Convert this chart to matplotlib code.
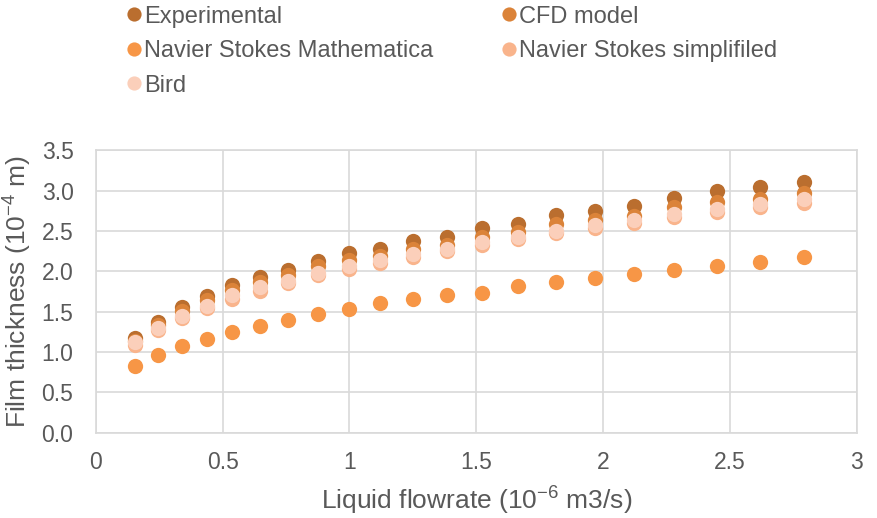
import matplotlib
matplotlib.use('Agg')
from matplotlib import pyplot as plt
from matplotlib.ticker import FuncFormatter

plt.rcParams['font.family'] = ['Liberation Sans', 'DejaVu Sans']
plt.rcParams['mathtext.fontset'] = 'custom'
plt.rcParams['mathtext.rm'] = 'Liberation Sans'

# liquid flowrate (10^-6 m3/s)
flowrate = [0.154, 0.244, 0.339, 0.437, 0.539, 0.647, 0.757, 0.876, 0.997,
            1.121, 1.252, 1.385, 1.522, 1.664, 1.813, 1.967, 2.121, 2.281,
            2.447, 2.617, 2.790]

# film thickness (10^-4 m)
experimental = [1.17, 1.37, 1.56, 1.69, 1.83, 1.93, 2.01, 2.13, 2.22, 2.28,
                2.37, 2.43, 2.53, 2.59, 2.70, 2.75, 2.81, 2.91, 2.99, 3.04,
                3.11]
cfd_model = [1.14, 1.33, 1.51, 1.64, 1.77, 1.87, 1.95, 2.06, 2.14, 2.19,
             2.28, 2.33, 2.42, 2.48, 2.58, 2.63, 2.69, 2.79, 2.86, 2.90,
             2.97]
ns_mathematica = [0.82, 0.96, 1.07, 1.16, 1.25, 1.32, 1.40, 1.47, 1.53, 1.60,
                  1.65, 1.71, 1.73, 1.82, 1.87, 1.92, 1.97, 2.02, 2.07, 2.12,
                  2.17]
ns_simplified = [1.09, 1.27, 1.42, 1.54, 1.66, 1.76, 1.85, 1.95, 2.03, 2.10,
                 2.18, 2.25, 2.33, 2.40, 2.47, 2.53, 2.60, 2.67, 2.73, 2.79,
                 2.85]
bird = [1.12, 1.30, 1.45, 1.57, 1.70, 1.80, 1.88, 1.98, 2.06, 2.14, 2.21,
        2.28, 2.36, 2.43, 2.50, 2.57, 2.64, 2.71, 2.77, 2.83, 2.89]

series = [
    ('Experimental', experimental, '#BA6E2F'),
    ('CFD model', cfd_model, '#DB8339'),
    ('Navier Stokes Mathematica', ns_mathematica, '#F79646'),
    ('Navier Stokes simplifiled', ns_simplified, '#F9B48C'),
    ('Bird', bird, '#FBCFBA'),
]

text_col = '#595959'
grid_col = '#D9D9D9'

fig = plt.figure(figsize=(8.78, 5.18), dpi=100)
ax = fig.add_axes([0.109, 0.165, 0.867, 0.545])

handles = {}
for name, vals, col in series:
    h, = ax.plot(flowrate, vals, 'o', color=col, ms=11, mec='none',
                 label=name, zorder=3)
    handles[name] = h

ax.set_xlim(0, 3)
ax.set_ylim(0, 3.5)
ax.set_xticks([0, 0.5, 1, 1.5, 2, 2.5, 3])
ax.set_yticks([0, 0.5, 1, 1.5, 2, 2.5, 3, 3.5])
ax.xaxis.set_major_formatter(FuncFormatter(lambda v, p: f'{v:g}'))
ax.yaxis.set_major_formatter(FuncFormatter(lambda v, p: f'{v:.1f}'))
ax.grid(True, color=grid_col, lw=1.2, zorder=0)
for s in ax.spines.values():
    s.set_color(grid_col)
    s.set_linewidth(1.2)
ax.tick_params(length=0, labelsize=16.5, labelcolor=text_col)
ax.tick_params(axis='y', pad=16)
ax.tick_params(axis='x', pad=13)

ax.set_xlabel(r'Liquid flowrate (10$^{\mathregular{-6}}$ m3/s)',
              fontsize=19, color=text_col, labelpad=7)
ax.set_ylabel(r'Film thickness (10$^{\mathregular{-4}}$ m)',
              fontsize=19, color=text_col, labelpad=6)

# legend laid out row-wise over two columns
order = ['Experimental', 'Navier Stokes Mathematica', 'Bird',
         'CFD model', 'Navier Stokes simplifiled']
leg = fig.legend([handles[n] for n in order], order, ncol=2,
                 loc='upper left', bbox_to_anchor=(0.131, 1.012),
                 frameon=False, fontsize=17, handlelength=0.6,
                 handletextpad=0.12, columnspacing=2.9, labelspacing=0.53,
                 borderpad=0, markerscale=0.93)
for t in leg.get_texts():
    t.set_color(text_col)

fig.savefig('out.png', dpi=100)
